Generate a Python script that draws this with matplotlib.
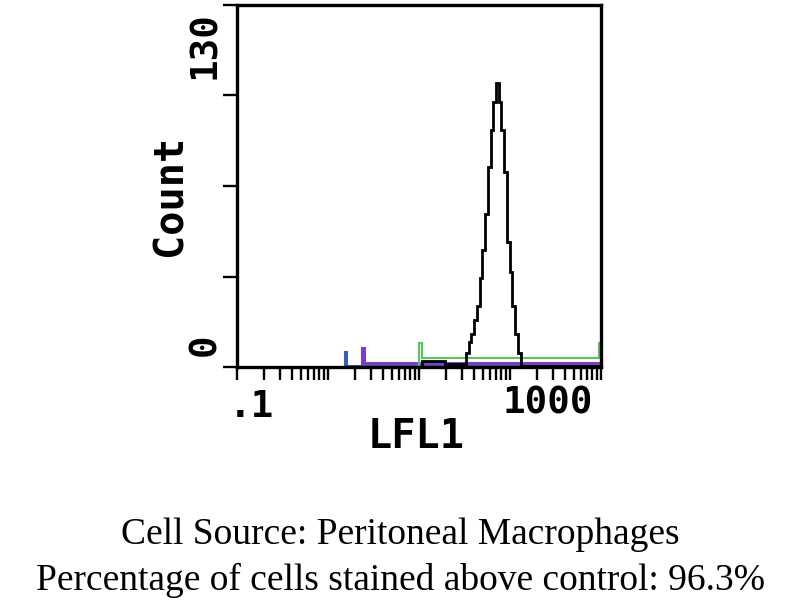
import numpy as np
import matplotlib
matplotlib.use("Agg")
import matplotlib.pyplot as plt
from matplotlib.ticker import LogLocator, NullFormatter, FixedLocator

# ---- data (log10 of LFL1 channel edges, counts) ----
black_log_edges = [1.033, 1.286, 1.516, 1.546, 1.576, 1.606, 1.636, 1.666, 1.696,
                   1.726, 1.756, 1.786, 1.816, 1.846, 1.876, 1.906, 1.936, 1.966,
                   1.996, 2.026, 2.056, 2.086, 2.116, 3.0]
black_counts = [2.0, 1.0, 5, 9, 12, 17, 22, 32, 42, 55, 72, 85, 95, 102, 95, 85,
                70, 45, 34, 22, 12, 5, 0.5]

green_log_edges = [1.0, 1.03, 2.98, 3.0]
green_counts = [8.5, 3.2, 8.5]

purple_log_edges = [0.374, 0.40, 3.0]
purple_counts = [6.8, 1.3]

blue_log_edges = [0.187, 0.21, 3.0]
blue_counts = [5.4, 0.5]

x_min, x_max = 0.1, 1000
y_min, y_max = 0, 130
y_ticks = [0, 32.5, 65, 97.5, 130]

caption1 = "Cell Source: Peritoneal Macrophages"
caption2 = "Percentage of cells stained above control: 96.3%"

# ---- figure ----
fig = plt.figure(figsize=(8, 6), dpi=100)
ax = fig.add_axes([237/800, 1 - 367/600, 364/800, 362/600])

mono = {"family": "DejaVu Sans Mono", "weight": "bold"}

def edges(le):
    return 10 ** np.asarray(le)

ax.stairs(blue_counts, edges(blue_log_edges), color="#3a5fb0", lw=1.5)
ax.stairs(purple_counts, edges(purple_log_edges), color="#7b3fc4", lw=2.2)
ax.stairs(green_counts, edges(green_log_edges), color="#5cc45c", lw=1.5)
ax.stairs(black_counts, edges(black_log_edges), color="black", lw=2.0)

ax.set_xscale("log")
ax.set_xlim(x_min, x_max)
ax.set_ylim(y_min, y_max)

for s in ax.spines.values():
    s.set_linewidth(2.4)

ax.xaxis.set_major_locator(LogLocator(base=10, numticks=10))
ax.xaxis.set_minor_locator(LogLocator(base=10, subs=np.arange(2, 10), numticks=20))
ax.xaxis.set_major_formatter(NullFormatter())
ax.xaxis.set_minor_formatter(NullFormatter())
ax.tick_params(axis="x", which="both", direction="out", length=9, width=1.7, colors="black")

ax.yaxis.set_major_locator(FixedLocator(y_ticks))
ax.yaxis.set_major_formatter(NullFormatter())
ax.tick_params(axis="y", which="both", direction="out", length=10, width=1.7)

# tick labels (manual placement as in the original)
fig.text(251/800, 1 - 407/600, ".1", ha="center", va="center", fontsize=27, **mono)
fig.text(548/800, 1 - 404/600, "1000", ha="center", va="center", fontsize=27, **mono)
fig.text(205/800, 1 - 45/600, "130", ha="center", va="center", rotation=90, fontsize=27, **mono)
fig.text(205/800, 1 - 345/600, "0", ha="center", va="center", rotation=90, fontsize=27, **mono)

# axis labels
fig.text(416/800, 1 - 437/600, "LFL1", ha="center", va="center", fontsize=29, **mono)
fig.text(170/800, 1 - 195/600, "Count", ha="center", va="center", rotation=90, fontsize=29, **mono)

# caption
fig.text(0.5, 1 - 535/600, caption1, ha="center", va="center", fontsize=27,
         family="Liberation Serif")
fig.text(0.5, 1 - 580/600, caption2, ha="center", va="center", fontsize=27,
         family="Liberation Serif")

fig.savefig("out.png", dpi=100)
